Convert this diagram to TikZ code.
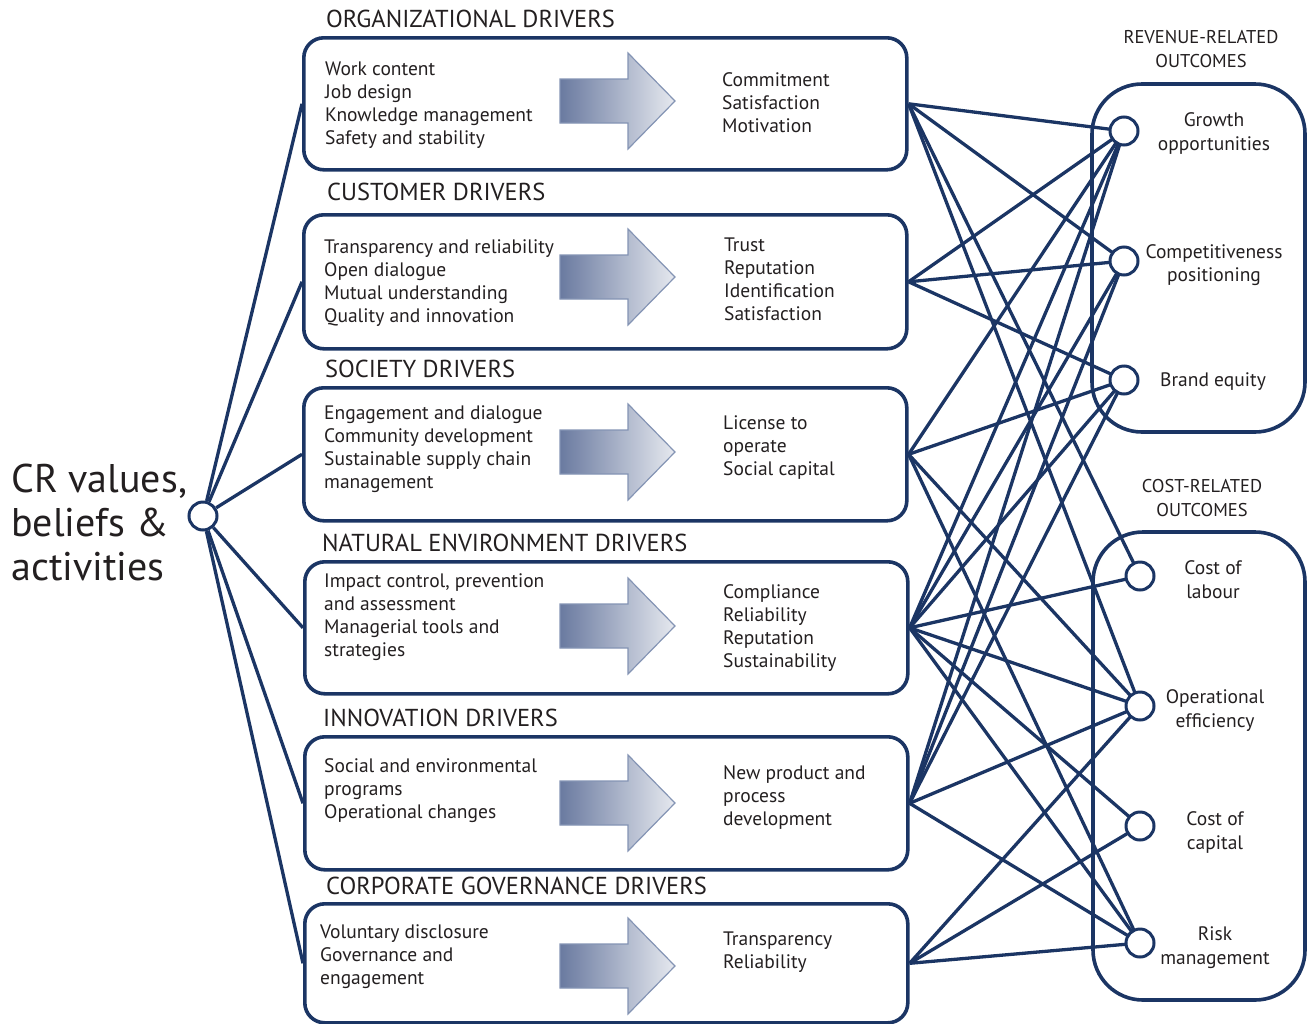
\documentclass[tikz,border=0pt]{standalone}
\usepackage{fontspec}
\setmainfont{PT Sans}
\definecolor{navy}{HTML}{1B3564}
\definecolor{txt}{HTML}{231F20}
\definecolor{arrL}{HTML}{6A7AA0}
\definecolor{arrR}{HTML}{E6E9EF}
\definecolor{arrB}{HTML}{8494B4}
\newcommand\blockarrow[1]{%
  \shadedraw[left color=arrL, right color=arrR, draw=arrB, line width=1.2pt]
    (560,#1-22) -- (628,#1-22) -- (628,#1-48) -- (675,#1) -- (628,#1+48)
    -- (628,#1+22) -- (560,#1+22) -- cycle;}
\begin{document}
\begin{tikzpicture}[x=1pt,y=-1pt,
  drvbox/.style={draw=navy, line width=3.6pt, rounded corners=20pt, minimum width=603pt, anchor=north west, inner sep=0pt},
  outbox/.style={draw=navy, line width=3.6pt, rounded corners=50pt},
  hub/.style={circle, draw=navy, fill=white, line width=3pt, minimum size=28pt, inner sep=0pt},
  link/.style={draw=navy, line width=3.3pt},
  ttl/.style={anchor=west, inner sep=0pt, text=txt, font=\fontsize{24.5}{28}\selectfont},
  body/.style={anchor=west, inner sep=0pt, text=txt, align=left, font=\fontsize{19.5}{23}\selectfont},
  olab/.style={inner sep=0pt, text=txt, align=center, font=\fontsize{19.5}{23.5}\selectfont},
  ohead/.style={inner sep=0pt, text=txt, align=center, font=\fontsize{18.5}{24}\selectfont}]
\useasboundingbox (0,0) rectangle (1309,1023);

% driver boxes
\node[drvbox, minimum height=132pt] (org) at (302,36) {};
\node[drvbox, minimum height=134pt] (cus) at (302,213) {};
\node[drvbox, minimum height=133pt] (soc) at (302,386) {};
\node[drvbox, minimum height=132pt] (nat) at (303,560) {};
\node[drvbox, minimum height=133pt] (inn) at (303,735) {};
\node[drvbox, minimum height=119pt] (gov) at (303,902) {};

% titles
\node[ttl] (torg) at (326,19) {ORGANIZATIONAL DRIVERS};
\node[ttl] (tcus) at (327,192) {CUSTOMER DRIVERS};
\node[ttl] (tsoc) at (325,369) {SOCIETY DRIVERS};
\node[ttl] (tnat) at (322,543) {NATURAL ENVIRONMENT DRIVERS};
\node[ttl] (tinn) at (323,718) {INNOVATION DRIVERS};
\node[ttl] (tgov) at (326,886) {CORPORATE GOVERNANCE DRIVERS};

% arrows
\blockarrow{101}
\blockarrow{277}
\blockarrow{452}
\blockarrow{626}
\blockarrow{803}
\blockarrow{966}

% left texts
\node[body] (lorg) at (325,105) {Work content\\Job design\\Knowledge management\\Safety and stability};
\node[body] (lcus) at (324,283.5) {Transparency and reliability\\Open dialogue\\Mutual understanding\\Quality and innovation};
\node[body] (lsoc) at (324,449.5) {Engagement and dialogue\\Community development\\Sustainable supply chain\\management};
\node[body] (lnat) at (324,617) {Impact control, prevention\\and assessment\\Managerial tools and\\strategies};
\node[body] (linn) at (324,791) {Social and environmental\\programs\\Operational changes};
\node[body] (lgov) at (320,957) {Voluntary disclosure\\Governance and\\engagement};

% right texts
\node[body] (rorg) at (722,103) {Commitment\\Satisfaction\\Motivation};
\node[body] (rcus) at (724,279) {Trust\\Reputation\\Identification\\Satisfaction};
\node[body] (rsoc) at (723,448) {License to\\operate\\Social capital};
\node[body] (rnat) at (723,628) {Compliance\\Reliability\\Reputation\\Sustainability};
\node[body] (rinn) at (723,797.5) {New product and\\process\\development};
\node[body] (rgov) at (723,952.5) {Transparency\\Reliability};

% CR hub
\node[anchor=west, inner sep=0pt, text=txt, align=left, font=\fontsize{40}{44}\selectfont] (crtext) at (11,522) {CR values,\\beliefs \&\\activities};
\node[hub] (cr) at (203,516) {};
\foreach \b in {org,cus,soc,nat,inn,gov} \draw[link] (cr) -- (\b.west);

% outcome containers
\draw[outbox] (1092,84) rectangle (1305,432);
\draw[outbox] (1093,532) rectangle (1305,1000);
\node[ohead] (hrev) at (1201,49.5) {REVENUE-RELATED\\OUTCOMES};
\node[ohead] (hcost) at (1202,498) {COST-RELATED\\OUTCOMES};

% outcome hubs
\coordinate (pgro) at (1124,131);
\coordinate (pcom) at (1124,261);
\coordinate (pbra) at (1124,380);
\coordinate (plab) at (1140,576);
\coordinate (pope) at (1140,706);
\coordinate (pcap) at (1140,826);
\coordinate (prsk) at (1140,943);

% connectors
\foreach \s/\t in {org/gro, org/com, org/lab, org/ope,
                   cus/gro, cus/com, cus/bra,
                   soc/gro, soc/bra, soc/ope, soc/rsk,
                   nat/gro, nat/com, nat/bra, nat/lab, nat/ope, nat/cap, nat/rsk,
                   inn/gro, inn/com, inn/bra, inn/ope, inn/rsk,
                   gov/ope, gov/cap, gov/rsk}
  \draw[link] (\s.east) -- (p\t);

\node[hub] (gro) at (pgro) {};
\node[hub] (com) at (pcom) {};
\node[hub] (bra) at (pbra) {};
\node[hub] (lab) at (plab) {};
\node[hub] (ope) at (pope) {};
\node[hub] (cap) at (pcap) {};
\node[hub] (rsk) at (prsk) {};

\node[olab] (tgro) at (1214,133.5) {Growth\\opportunities};
\node[olab] (tcom) at (1214,265) {Competitiveness\\positioning};
\node[olab] (tbra) at (1213,382) {Brand equity};
\node[olab] (tlab) at (1213,579.5) {Cost of\\labour};
\node[olab] (tope) at (1215,710.5) {Operational\\efficiency};
\node[olab] (tcap) at (1215,832.5) {Cost of\\capital};
\node[olab] (trsk) at (1215,947.5) {Risk\\management};
\end{tikzpicture}
\end{document}
